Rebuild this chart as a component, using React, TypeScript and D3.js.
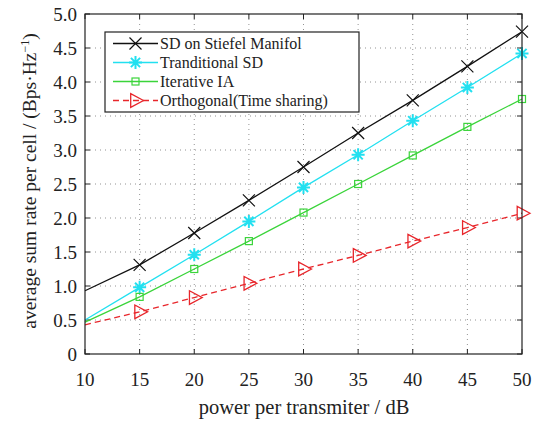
import React, { useEffect, useRef } from 'react';
import * as d3 from 'd3';

const powerDb = [10, 15, 20, 25, 30, 35, 40, 45, 50];
const sdStiefel = [0.93, 1.31, 1.78, 2.26, 2.75, 3.25, 3.73, 4.23, 4.74];
const traditionalSd = [0.5, 0.98, 1.46, 1.95, 2.45, 2.93, 3.43, 3.92, 4.42];
const iterativeIa = [0.47, 0.84, 1.25, 1.66, 2.08, 2.5, 2.92, 3.34, 3.75];
const orthogonal = [0.43, 0.62, 0.83, 1.04, 1.25, 1.45, 1.66, 1.86, 2.07];

const xTicks = [10, 15, 20, 25, 30, 35, 40, 45, 50];
const yTicks = [0, 0.5, 1, 1.5, 2, 2.5, 3, 3.5, 4, 4.5, 5];

const seriesNames = [
  'SD on Stiefel Manifol',
  'Tranditional SD',
  'Iterative IA',
  'Orthogonal(Time sharing)',
];

const App: React.FC = () => {
  const svgRef = useRef<SVGSVGElement>(null);

  useEffect(() => {
    if (!svgRef.current) return;
    const width = 543;
    const height = 421;
    const svg = d3.select(svgRef.current);
    svg.selectAll('*').remove();
    svg.attr('width', width).attr('height', height)
      .style('font-family', '"Liberation Serif", "Times New Roman", serif');

    const left = 85, right = 522, top = 14, bottom = 354;
    const x = d3.scaleLinear().domain([10, 50]).range([left, right]);
    const y = d3.scaleLinear().domain([0, 5]).range([bottom, top]);

    svg.append('rect').attr('width', width).attr('height', height).attr('fill', '#fff');

    // grid
    const grid = svg.append('g').attr('stroke', '#777').attr('stroke-width', 0.8)
      .attr('stroke-dasharray', '1,4');
    grid.selectAll('line.vx').data(xTicks.slice(1, -1)).join('line')
      .attr('x1', d => x(d)).attr('x2', d => x(d)).attr('y1', top).attr('y2', bottom);
    grid.selectAll('line.hy').data(yTicks.slice(1, -1)).join('line')
      .attr('y1', d => y(d)).attr('y2', d => y(d)).attr('x1', left).attr('x2', right);

    // ticks inward
    const ticks = svg.append('g').attr('stroke', '#222').attr('stroke-width', 1);
    xTicks.forEach(t => {
      ticks.append('line').attr('x1', x(t)).attr('x2', x(t)).attr('y1', bottom).attr('y2', bottom - 5);
      ticks.append('line').attr('x1', x(t)).attr('x2', x(t)).attr('y1', top).attr('y2', top + 5);
    });
    yTicks.forEach(t => {
      ticks.append('line').attr('x1', left).attr('x2', left + 5).attr('y1', y(t)).attr('y2', y(t));
      ticks.append('line').attr('x1', right).attr('x2', right - 5).attr('y1', y(t)).attr('y2', y(t));
    });

    // tick labels
    svg.append('g').selectAll('text').data(xTicks).join('text')
      .attr('x', d => x(d)).attr('y', 386).attr('text-anchor', 'middle')
      .attr('font-size', 19).attr('fill', '#222').text(d => d);
    svg.append('g').selectAll('text').data(yTicks).join('text')
      .attr('x', left - 8).attr('y', d => y(d)).attr('dy', '0.35em').attr('text-anchor', 'end')
      .attr('font-size', 19).attr('fill', '#222').text(d => (d === 0 ? '0' : d.toFixed(1)));

    // axis titles
    svg.append('text').attr('x', 304).attr('y', 414).attr('text-anchor', 'middle')
      .attr('font-size', 20.5).attr('fill', '#222').text('power per transmiter / dB');
    const yl = svg.append('text').attr('transform', `translate(36,181) rotate(-90)`)
      .attr('text-anchor', 'middle').attr('font-size', 19.5).attr('fill', '#222');
    yl.append('tspan').text('average sum rate per cell / (Bps·Hz');
    yl.append('tspan').attr('baseline-shift', 'super').attr('font-size', 12).text('−1');
    yl.append('tspan').text(')');

    const line = d3.line<number>().x((_, i) => x(powerDb[i])).y(d => y(d));

    const cfg = [
      { data: sdStiefel, color: '#111', dash: null, marker: 'x' },
      { data: traditionalSd, color: '#22e0f0', dash: null, marker: 'star' },
      { data: iterativeIa, color: '#3ad43a', dash: null, marker: 'square' },
      { data: orthogonal, color: '#e8262b', dash: '6,4', marker: 'tri' },
    ];

    const drawMarker = (g: any, kind: string, cx: number, cy: number, color: string) => {
      if (kind === 'x') {
        const s = 6;
        g.append('path').attr('d', `M${cx - s},${cy - s}L${cx + s},${cy + s}M${cx - s},${cy + s}L${cx + s},${cy - s}`)
          .attr('stroke', color).attr('stroke-width', 1.2).attr('fill', 'none');
      } else if (kind === 'star') {
        const s = 6.5;
        const d = [0, 45, 90, 135].map(a => {
          const r = (a * Math.PI) / 180;
          return `M${cx - s * Math.cos(r)},${cy - s * Math.sin(r)}L${cx + s * Math.cos(r)},${cy + s * Math.sin(r)}`;
        }).join('');
        g.append('path').attr('d', d).attr('stroke', color).attr('stroke-width', 2).attr('fill', 'none');
      } else if (kind === 'square') {
        const s = 3.5;
        g.append('rect').attr('x', cx - s).attr('y', cy - s).attr('width', 2 * s).attr('height', 2 * s)
          .attr('stroke', color).attr('stroke-width', 1.2).attr('fill', 'none');
      } else {
        const s = 8;
        g.append('path').attr('d', `M${cx + s},${cy}L${cx - s * 0.6},${cy - s * 0.85}L${cx - s * 0.6},${cy + s * 0.85}Z`)
          .attr('stroke', color).attr('stroke-width', 1.3).attr('fill', 'none');
      }
    };

    cfg.forEach(c => {
      svg.append('path').attr('d', line(c.data)).attr('fill', 'none').attr('stroke', c.color)
        .attr('stroke-width', 1.3).attr('stroke-dasharray', c.dash);
      const g = svg.append('g');
      c.data.forEach((v, i) => {
        if (i === 0) return;
        drawMarker(g, c.marker, x(powerDb[i]), y(v), c.color);
      });
    });

    // frame
    svg.append('rect').attr('x', left).attr('y', top).attr('width', right - left).attr('height', bottom - top)
      .attr('fill', 'none').attr('stroke', '#222').attr('stroke-width', 1.2);

    // legend
    const lg = svg.append('g');
    lg.append('rect').attr('x', 105).attr('y', 32).attr('width', 254).attr('height', 80)
      .attr('fill', '#fff').attr('stroke', '#222').attr('stroke-width', 1.2);
    cfg.forEach((c, i) => {
      const ly = 43.5 + i * 19;
      lg.append('line').attr('x1', 113).attr('x2', 158).attr('y1', ly).attr('y2', ly)
        .attr('stroke', c.color).attr('stroke-width', 1.3).attr('stroke-dasharray', c.dash);
      drawMarker(lg, c.marker, 135.5, ly, c.color);
      lg.append('text').attr('x', 160).attr('y', ly).attr('dy', '0.35em').attr('font-size', 16)
        .attr('fill', '#222').text(seriesNames[i]);
    });
  }, []);

  return <svg ref={svgRef} style={{ display: 'block', position: 'absolute', left: 0, top: 0 }} />;
};

export default App;
